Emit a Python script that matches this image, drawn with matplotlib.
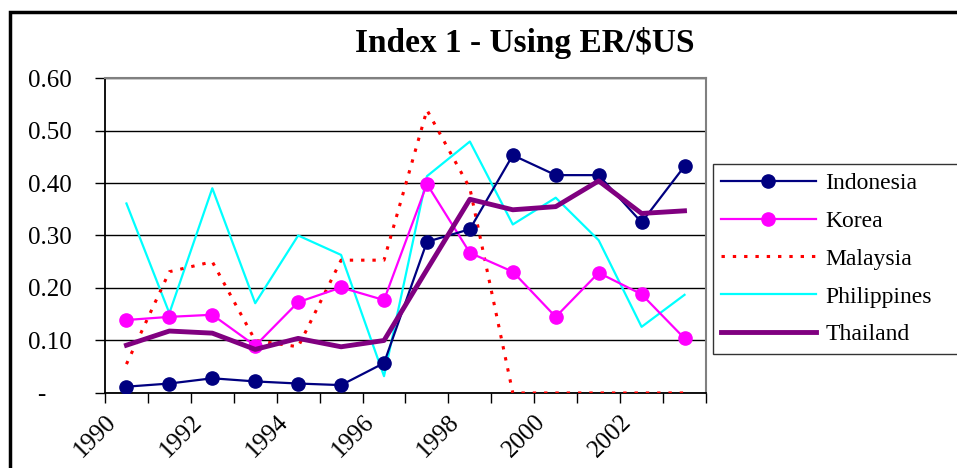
import matplotlib.pyplot as plt
from matplotlib.patches import Rectangle

plt.rcParams['font.family'] = ['Liberation Serif', 'DejaVu Serif']

years = list(range(1990, 2004))
indonesia = [0.012, 0.018, 0.028, 0.022, 0.018, 0.015, 0.057, 0.288, 0.312, 0.453, 0.415, 0.415, 0.325, 0.432]
korea = [0.139, 0.145, 0.149, 0.090, 0.173, 0.201, 0.177, 0.398, 0.267, 0.231, 0.145, 0.229, 0.188, 0.104]
malaysia = [0.055, 0.231, 0.250, 0.100, 0.088, 0.253, 0.253, 0.539, 0.390, 0.0, 0.0, 0.0, 0.0, 0.0]
philippines = [0.361, 0.152, 0.390, 0.171, 0.300, 0.263, 0.032, 0.413, 0.479, 0.321, 0.372, 0.291, 0.126, 0.187]
thailand = [0.091, 0.118, 0.114, 0.083, 0.104, 0.088, 0.100, 0.235, 0.369, 0.349, 0.355, 0.404, 0.342, 0.347]
yticks = [0, 0.1, 0.2, 0.3, 0.4, 0.5, 0.6]
ytick_labels = ['-    ', '0.10', '0.20', '0.30', '0.40', '0.50', '0.60']

fig = plt.figure(figsize=(9.57, 4.68), dpi=100)
ax = fig.add_axes([0.1097, 0.1603, 0.628, 0.673])

x = [y + 0.5 for y in years]
ax.plot(x, indonesia, color='#000080', lw=1.6, marker='o', ms=9.5, label='Indonesia', zorder=5)
ax.plot(x, korea, color='#FF00FF', lw=1.6, marker='o', ms=9.5, label='Korea', zorder=4)
ax.plot(x, malaysia, color='#FF0000', lw=2.2, ls=(0, (1.1, 2.6)), label='Malaysia', zorder=3)
ax.plot(x, philippines, color='#00FFFF', lw=1.6, label='Philippines', zorder=2)
ax.plot(x, thailand, color='#800080', lw=3.5, label='Thailand', zorder=6)

ax.set_xlim(1990, 2004)
ax.set_ylim(0, 0.6)
ax.set_yticks(yticks)
ax.set_yticklabels(ytick_labels, fontsize=18)
ax.set_xticks(range(1990, 2005))
ax.set_xticklabels([str(y) if (y % 2 == 0 and y < 2004) else '' for y in range(1990, 2005)],
                   rotation=45, ha='right', va='top', fontsize=18, rotation_mode='anchor')
ax.tick_params(axis='both', direction='out', length=7, width=1, pad=6)
ax.tick_params(axis='y', pad=17)
ax.yaxis.grid(True, color='black', lw=1)
ax.set_axisbelow(True)
for s in ['top', 'right']:
    ax.spines[s].set_color('#808080')
    ax.spines[s].set_linewidth(1.5)
for s in ['left', 'bottom']:
    ax.spines[s].set_linewidth(1.3)

fig.text(0.548, 0.908, 'Index 1 - Using ER/$US', ha='center', va='center',
         fontsize=24, fontweight='bold')

leg = ax.legend(loc='upper left', bbox_to_anchor=(713 / 957, 1 - 169 / 468, 270 / 957, 0.01),
                bbox_transform=fig.transFigure, mode='expand',
                fontsize=17, frameon=True, fancybox=False, edgecolor='black',
                handlelength=4.0, labelspacing=0.69, borderpad=0.35, handletextpad=0.4,
                borderaxespad=0)
leg.get_frame().set_linewidth(1)

fig.patches.append(Rectangle((10 / 957, -0.1), 2, 1 - 12 / 468 + 0.1, transform=fig.transFigure,
                             fill=False, edgecolor='black', lw=2.5))

fig.savefig('out.png', dpi=100)
